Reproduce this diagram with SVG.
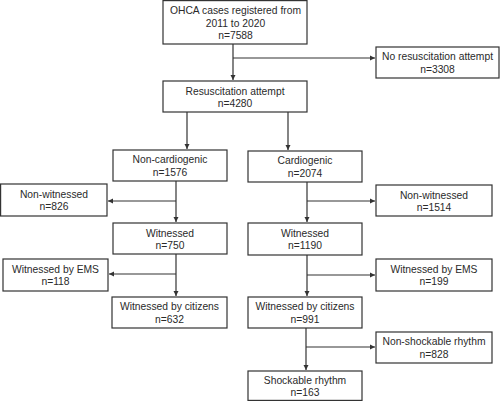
<svg xmlns="http://www.w3.org/2000/svg" width="500" height="401" viewBox="0 0 500 401">
<defs>
<marker id="ah" markerWidth="6" markerHeight="6" refX="5" refY="3" orient="auto" markerUnits="userSpaceOnUse">
<path d="M0,0.5 L5,3 L0,5.5 Z" fill="#333"/>
</marker>
<style>
rect{fill:#fff;stroke:#333;stroke-width:1.2}
text{font-family:"Liberation Sans",Arial,sans-serif;font-size:10.3px;fill:#2a2a2a;text-anchor:middle}
.c{fill:none;stroke:#333;stroke-width:1.2}
</style>
</defs>
<rect x="0" y="0" width="500" height="401" style="stroke:none"/>
<g id="connectors">
<path class="c" d="M233,44 V80" marker-end="url(#ah)"/>
<path class="c" d="M233,58 H375" marker-end="url(#ah)"/>
<path class="c" d="M187,112 V149" marker-end="url(#ah)"/>
<path class="c" d="M288,112 V150" marker-end="url(#ah)"/>
<path class="c" d="M176,181 V222" marker-end="url(#ah)"/>
<path class="c" d="M176,201 H108" marker-end="url(#ah)"/>
<path class="c" d="M307,182 V222" marker-end="url(#ah)"/>
<path class="c" d="M307,201 H375" marker-end="url(#ah)"/>
<path class="c" d="M176,254 V296" marker-end="url(#ah)"/>
<path class="c" d="M176,274 H109" marker-end="url(#ah)"/>
<path class="c" d="M307,255 V296" marker-end="url(#ah)"/>
<path class="c" d="M307,275 H375" marker-end="url(#ah)"/>
<path class="c" d="M306,328 V370" marker-end="url(#ah)"/>
<path class="c" d="M306,347 H375" marker-end="url(#ah)"/>
</g>
<g id="n_ohca"><rect x="163" y="0.6" width="144" height="43.4"/><text x="235.5" y="14">OHCA cases registered from</text><text x="235.5" y="26.5">2011 to 2020</text><text x="235.5" y="39">n=7588</text></g>
<g id="n_nores"><rect x="376" y="47" width="123" height="31"/><text x="437.5" y="60">No resuscitation attempt</text><text x="437.5" y="72.5">n=3308</text></g>
<g id="n_res"><rect x="163" y="81" width="144" height="31"/><text x="235" y="94.5">Resuscitation attempt</text><text x="235" y="107">n=4280</text></g>
<g id="n_noncard"><rect x="113" y="150" width="114" height="31"/><text x="170" y="163">Non-cardiogenic</text><text x="170" y="175.5">n=1576</text></g>
<g id="n_card"><rect x="248" y="151" width="114" height="31"/><text x="305" y="164">Cardiogenic</text><text x="305" y="176.5">n=2074</text></g>
<g id="n_nw_l"><rect x="0.6" y="184" width="106.4" height="32"/><text x="54" y="197.5">Non-witnessed</text><text x="54" y="210">n=826</text></g>
<g id="n_nw_r"><rect x="376" y="185" width="116" height="31"/><text x="434" y="198.5">Non-witnessed</text><text x="434" y="211">n=1514</text></g>
<g id="n_w_l"><rect x="113" y="223" width="114" height="31"/><text x="170" y="236.5">Witnessed</text><text x="170" y="249">n=750</text></g>
<g id="n_w_r"><rect x="248" y="223" width="114" height="32"/><text x="305" y="236.5">Witnessed</text><text x="305" y="249">n=1190</text></g>
<g id="n_ems_l"><rect x="3" y="259" width="105" height="32"/><text x="55.5" y="272.5">Witnessed by EMS</text><text x="55.5" y="285">n=118</text></g>
<g id="n_ems_r"><rect x="376" y="259" width="116" height="32"/><text x="434" y="272.5">Witnessed by EMS</text><text x="434" y="285">n=199</text></g>
<g id="n_cit_l"><rect x="112" y="297" width="115" height="31"/><text x="169.5" y="310">Witnessed by citizens</text><text x="169.5" y="322.5">n=632</text></g>
<g id="n_cit_r"><rect x="248" y="297" width="114" height="31"/><text x="305" y="310">Witnessed by citizens</text><text x="305" y="322.5">n=991</text></g>
<g id="n_nonshock"><rect x="376" y="332" width="116" height="31"/><text x="434" y="345">Non-shockable rhythm</text><text x="434" y="357.5">n=828</text></g>
<g id="n_shock"><rect x="248" y="371" width="114" height="29.4"/><text x="305" y="383.5">Shockable rhythm</text><text x="305" y="396">n=163</text></g>
</svg>
